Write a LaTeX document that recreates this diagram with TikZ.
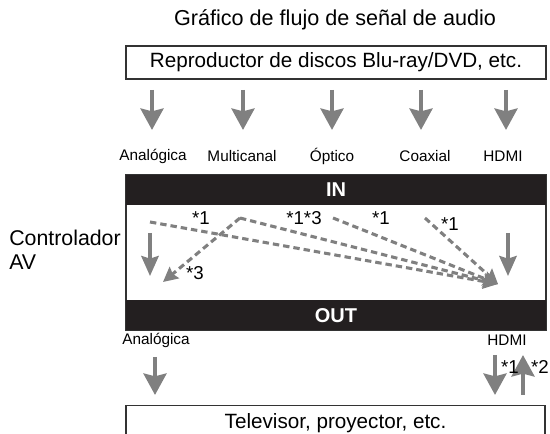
\documentclass[tikz,border=0pt]{standalone}
\usepackage{fontspec}
\setmainfont{Liberation Sans}
\usetikzlibrary{arrows.meta}
\definecolor{FlowGray}{HTML}{808080}
\definecolor{BandBlack}{HTML}{231F20}
\begin{document}
\begin{tikzpicture}[
  x=0.75pt, y=-0.75pt,
  box/.style={draw=black!80,line width=0.8pt,minimum width=315pt,inner sep=0pt,
              font=\fontsize{15.5}{18}\selectfont},
  band/.style={fill=BandBlack,text=white,minimum width=315pt,minimum height=22.5pt,
               inner sep=0pt,font=\fontsize{15}{18}\selectfont\bfseries},
  port/.style={font=\fontsize{11.5}{13}\selectfont,inner sep=0pt},
  note/.style={font=\fontsize{14}{16}\selectfont,inner sep=0pt},
  flow/.style={-{Stealth[length=16pt,width=17pt,inset=2pt]},line width=3.6pt,FlowGray},
  inner flow/.style={-{Stealth[length=15pt,width=13pt,inset=2pt]},line width=2.6pt,FlowGray},
  route/.style={-{Stealth[length=11pt,width=11pt,inset=1.5pt]},line width=2.3pt,FlowGray,
                dash pattern=on 4.8pt off 3pt},
]
\clip (0,0) rectangle (550,434);

\node[note,font=\fontsize{16.2}{18}\selectfont] (title) at (335,20)
  {Gráfico de flujo de señal de audio};
\node[box,minimum height=24.75pt] (player) at (336,62.5)
  {Reproductor de discos Blu-ray/DVD, etc.};

% inputs from the player
\foreach \name/\x/\lx/\txt in {ana/152/153/Analógica, mul/243/242/Multicanal,
    opt/332/332/Óptico, coa/421/425/Coaxial, hdmi/506/503/HDMI} {
  \node[port] (in-\name) at (\lx,156) {\txt};
  \coordinate (in-\name-top) at (\x,90);
  \coordinate (in-\name-tip) at (\x,130);
  \draw[flow] (in-\name-top) -- (in-\name-tip);
}

% AV controller
\node[draw=black!80,line width=0.8pt,minimum width=315pt,minimum height=116.25pt,
      inner sep=0pt] (avr) at (336,252.5) {};
\node[band,anchor=north] (inband) at (avr.north) {IN};
\node[band,anchor=south] (outband) at (avr.south) {OUT};
\node[note,font=\fontsize{16}{18}\selectfont,align=left,anchor=west] (avlabel)
  at (9,250) {Controlador\\AV};

\coordinate (ana-a) at (150,233);
\coordinate (ana-b) at (150,276);
\coordinate (hdmi-a) at (508,233);
\coordinate (hdmi-b) at (508,276);
\draw[inner flow] (ana-a) -- (ana-b);
\draw[inner flow] (hdmi-a) -- (hdmi-b);

% converted routes
\coordinate (mix) at (498,284);
\coordinate (ana-src) at (150,222);
\coordinate (mul-src) at (240,218);
\coordinate (opt-src) at (333,218);
\coordinate (coa-src) at (425,218);
\coordinate (mul-down) at (163,282);
\draw[route] (ana-src) -- (mix);
\draw[route] (mul-src) -- (mix);
\draw[route] (mul-src) -- (mul-down);
\draw[route] (opt-src) -- (mix);
\draw[route] (coa-src) -- (mix);

\node[note] (n-ana) at (201,218) {*1};
\node[note] (n-mul) at (304,218) {*1*3};
\node[note] (n-opt) at (381,218) {*1};
\node[note] (n-coa) at (450,224) {*1};
\node[note] (n-down) at (195,273) {*3};

% outputs
\node[port] (out-ana) at (156,340) {Analógica};
\node[port] (out-hdmi) at (507,340) {HDMI};
\coordinate (out-ana-a) at (155,357);
\coordinate (out-ana-b) at (155,395);
\coordinate (out-hdmi-a) at (495,355);
\coordinate (out-hdmi-b) at (495,395);
\coordinate (back-a) at (523,395);
\coordinate (back-b) at (523,355);
\draw[flow] (out-ana-a) -- (out-ana-b);
\draw[flow] (out-hdmi-a) -- (out-hdmi-b);
\draw[flow] (back-a) -- (back-b);
\node[note] (n-out) at (510,367) {*1};
\node[note] (n-back) at (540,367) {*2};

\node[box,minimum width=314.25pt,minimum height=27pt,anchor=north] (display)
  at (335.5,405) {Televisor, proyector, etc.};
\end{tikzpicture}
\end{document}
